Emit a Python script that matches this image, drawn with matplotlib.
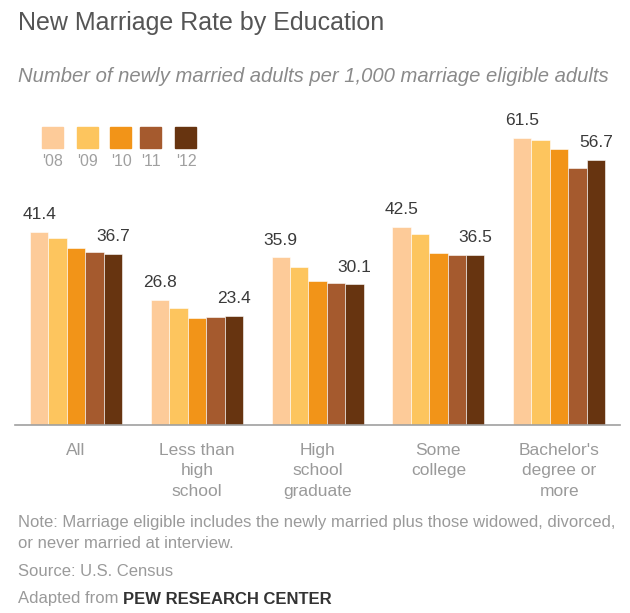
import numpy as np
import matplotlib
matplotlib.use("Agg")
import matplotlib.pyplot as plt
from matplotlib.patches import Rectangle

plt.rcParams['font.family'] = ['Liberation Sans', 'DejaVu Sans']

categories = ["All", "Less than\nhigh\nschool", "High\nschool\ngraduate",
              "Some\ncollege", "Bachelor's\ndegree or\nmore"]
years = ["'08", "'09", "'10", "'11", "'12"]
rate_08 = [41.4, 26.8, 35.9, 42.5, 61.5]
rate_09 = [40.0, 25.1, 33.8, 41.0, 61.0]
rate_10 = [38.0, 22.9, 30.8, 36.9, 59.1]
rate_11 = [37.0, 23.1, 30.5, 36.5, 55.0]
rate_12 = [36.7, 23.4, 30.1, 36.5, 56.7]
series = [rate_08, rate_09, rate_10, rate_11, rate_12]
colors = ["#FDCB99", "#FDC55E", "#F29418", "#A55A2E", "#673410"]

W, H = 630, 613
fig = plt.figure(figsize=(W / 100, H / 100), dpi=100)

# axes placed in pixel terms: baseline at y=425, x from 15 to 620
ax = fig.add_axes([15 / W, (H - 425) / H, 605 / W, 315 / H])
ax.set_xlim(-0.506, 4.504)
ax.set_ylim(0, 315 / 4.67)

x = np.arange(len(categories))
bw = 0.1527
for k, vals in enumerate(series):
    pos = x - 2 * bw + k * bw
    ax.bar(pos, vals, width=bw, color=colors[k], edgecolor="white", linewidth=0.4)

# value labels on first and last bar of each group
for i in range(len(categories)):
    ax.annotate(f"{rate_08[i]:.1f}", (x[i] - 2 * bw, rate_08[i]), xytext=(0, 7),
                textcoords="offset points", ha="center", va="bottom",
                fontsize=12.5, color="#3a3a3a")
    ax.annotate(f"{rate_12[i]:.1f}", (x[i] + 2 * bw, rate_12[i]), xytext=(0, 7),
                textcoords="offset points", ha="center", va="bottom",
                fontsize=12.5, color="#3a3a3a")

for s in ["top", "right", "left"]:
    ax.spines[s].set_visible(False)
ax.spines["bottom"].set_color("#a0a0a0")
ax.spines["bottom"].set_linewidth(1.2)
ax.set_yticks([])
ax.set_xticks(x)
ax.set_xticklabels(categories, fontsize=12.5, color="#9a9a9a")
for lab in ax.get_xticklabels():
    lab.set_linespacing(1.45)
ax.tick_params(axis="x", length=0, pad=13)

# title and subtitle
fig.text(18 / W, 1 - 23 / H, "New Marriage Rate by Education", fontsize=18,
         color="#555555", va="center", ha="left")
fig.text(18 / W, 1 - 76 / H,
         "Number of newly married adults per 1,000 marriage eligible adults",
         fontsize=14.6, style="italic", color="#8a8a8a", va="center", ha="left")

# legend
leg_x = [42, 77, 110, 140, 175]
for lx, c, lab in zip(leg_x, colors, years):
    fig.patches.append(Rectangle((lx / W, 1 - 148 / H), 21 / W, 21 / H,
                                 transform=fig.transFigure, color=c))
    fig.text((lx + 11) / W, 1 - 162 / H, lab, fontsize=11.5, color="#a0a0a0",
             ha="center", va="center")

# notes
fs = 12
fig.text(18 / W, 1 - 523 / H,
         "Note: Marriage eligible includes the newly married plus those widowed, divorced,",
         fontsize=fs, color="#9a9a9a", va="center")
fig.text(18 / W, 1 - 543 / H, "or never married at interview.",
         fontsize=fs, color="#9a9a9a", va="center")
fig.text(18 / W, 1 - 571 / H, "Source: U.S. Census",
         fontsize=fs, color="#9a9a9a", va="center")
t = fig.text(18 / W, 1 - 599 / H, "Adapted from ",
             fontsize=fs, color="#9a9a9a", va="center")
fig.canvas.draw()
bb = t.get_window_extent()
fig.text(bb.x1 / W, 1 - 599 / H, "PEW RESEARCH CENTER", fontsize=fs,
         color="#333333", fontweight="bold", va="center")

fig.savefig("out.png", dpi=100)
